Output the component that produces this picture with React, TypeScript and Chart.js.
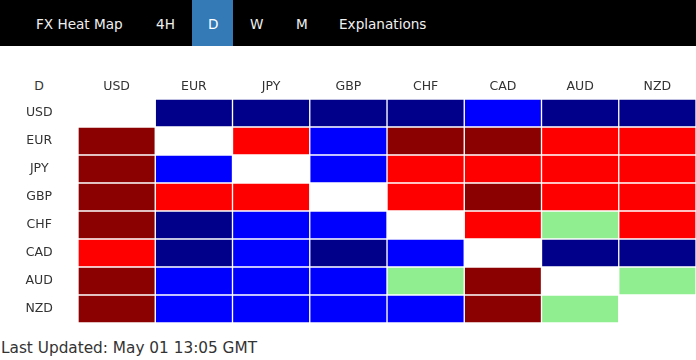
import React, { useEffect, useRef } from "react";
import { Chart, registerables } from "chart.js";

Chart.register(...registerables);

// Currencies (rows = base, columns = quote)
const rowCurrencies = ["USD", "EUR", "JPY", "GBP", "CHF", "CAD", "AUD", "NZD"];
const colCurrencies = ["USD", "EUR", "JPY", "GBP", "CHF", "CAD", "AUD", "NZD"];

// Strength levels: -2 strong down, -1 down, 0 neutral, 1 up, 2 strong up, null = same currency
const rowUSD = [null, -2, -2, -2, -2, -1, -2, -2];
const rowEUR = [2, null, 1, -1, 2, 2, 1, 1];
const rowJPY = [2, -1, null, -1, 1, 1, 1, 1];
const rowGBP = [2, 1, 1, null, 1, 2, 1, 1];
const rowCHF = [2, -2, -1, -1, null, 1, 0, 1];
const rowCAD = [1, -2, -1, -2, -1, null, -2, -2];
const rowAUD = [2, -1, -1, -1, 0, 2, null, 0];
const rowNZD = [2, -1, -1, -1, -1, 2, 0, null];

const rows = [rowUSD, rowEUR, rowJPY, rowGBP, rowCHF, rowCAD, rowAUD, rowNZD];

const tabs = ["FX Heat Map", "4H", "D", "W", "M", "Explanations"];
const activeTab = "D";
const updatedText = "Last Updated: May 01 13:05 GMT";

function levelColor(v: number | null): string {
  if (v === null) return "#ffffff";
  if (v <= -2) return "#00008b";
  if (v === -1) return "#0000ff";
  if (v === 0) return "#90ee90";
  if (v === 1) return "#ff0000";
  return "#8b0000";
}

const FONT = "'DejaVu Sans', Verdana, sans-serif";

const tabPos: Record<string, number> = {
  "FX Heat Map": 36,
  "4H": 156,
  D: 208,
  W: 250,
  M: 296,
  Explanations: 339,
};

export default function App() {
  const ref = useRef<HTMLCanvasElement | null>(null);

  useEffect(() => {
    if (!ref.current) return;
    const datasets = colCurrencies.map((c, j) => ({
      label: c,
      data: rows.map(() => 1),
      backgroundColor: rows.map((r) => levelColor(r[j])),
      borderColor: "#ffffff",
      borderWidth: 1,
      borderSkipped: false as const,
      barPercentage: 1,
      categoryPercentage: 1,
      xAxisID: "x",
      yAxisID: "y",
    }));
    const chart = new Chart(ref.current, {
      type: "bar",
      data: { labels: rowCurrencies, datasets },
      options: {
        indexAxis: "y",
        responsive: false,
        animation: false,
        events: [],
        layout: { padding: { top: 0, bottom: 13, left: 0, right: 0 } },
        plugins: { legend: { display: false }, tooltip: { enabled: false } },
        scales: {
          x: { type: "linear", stacked: true, min: 0, max: colCurrencies.length, display: false },
          x2: {
            type: "category",
            position: "top",
            labels: colCurrencies,
            offset: true,
            grid: { display: false, drawTicks: false },
            border: { display: false },
            ticks: { padding: 5, color: "#333", font: { family: FONT, size: 12.5 } },
            afterFit: (s: any) => {
              s.height = 53;
              s.paddingLeft = 0;
              s.paddingRight = 0;
            },
          },
          y: {
            type: "category",
            stacked: true,
            offset: true,
            grid: { display: false, drawTicks: false },
            border: { display: false },
            ticks: { padding: 25, crossAlign: "center", color: "#333", font: { family: FONT, size: 12.5 } },
            afterFit: (s: any) => {
              s.width = 78;
              s.paddingTop = 0;
              s.paddingBottom = 0;
            },
          },
        },
      },
    } as any);
    return () => chart.destroy();
  }, []);

  return (
    <div
      style={{
        position: "fixed",
        left: 0,
        top: 0,
        width: 696,
        height: 360,
        background: "#fff",
        fontFamily: FONT,
        overflow: "hidden",
      }}
    >
      <div style={{ position: "absolute", left: 0, top: 0, width: 696, height: 46, background: "#000" }} />
      <div style={{ position: "absolute", left: 192, top: 0, width: 41, height: 46, background: "#337ab7" }} />
      {tabs.map((t) => (
        <span
          key={t}
          style={{
            position: "absolute",
            left: tabPos[t],
            top: 17,
            fontSize: 13.6,
            lineHeight: "14px",
            color: t === activeTab ? "#ffffff" : "#f0f0f0",
            whiteSpace: "nowrap",
          }}
        >
          {t}
        </span>
      ))}
      <span
        style={{
          position: "absolute",
          left: 0,
          width: 78,
          top: 80,
          textAlign: "center",
          fontSize: 12.5,
          lineHeight: "12.5px",
          color: "#333",
        }}
      >
        {activeTab}
      </span>
      <canvas ref={ref} width={696} height={290} style={{ position: "absolute", left: 0, top: 46 }} />
      <span
        style={{
          position: "absolute",
          left: 1,
          top: 341,
          fontSize: 15.3,
          lineHeight: "15px",
          color: "#333",
          whiteSpace: "nowrap",
        }}
      >
        {updatedText}
      </span>
    </div>
  );
}
